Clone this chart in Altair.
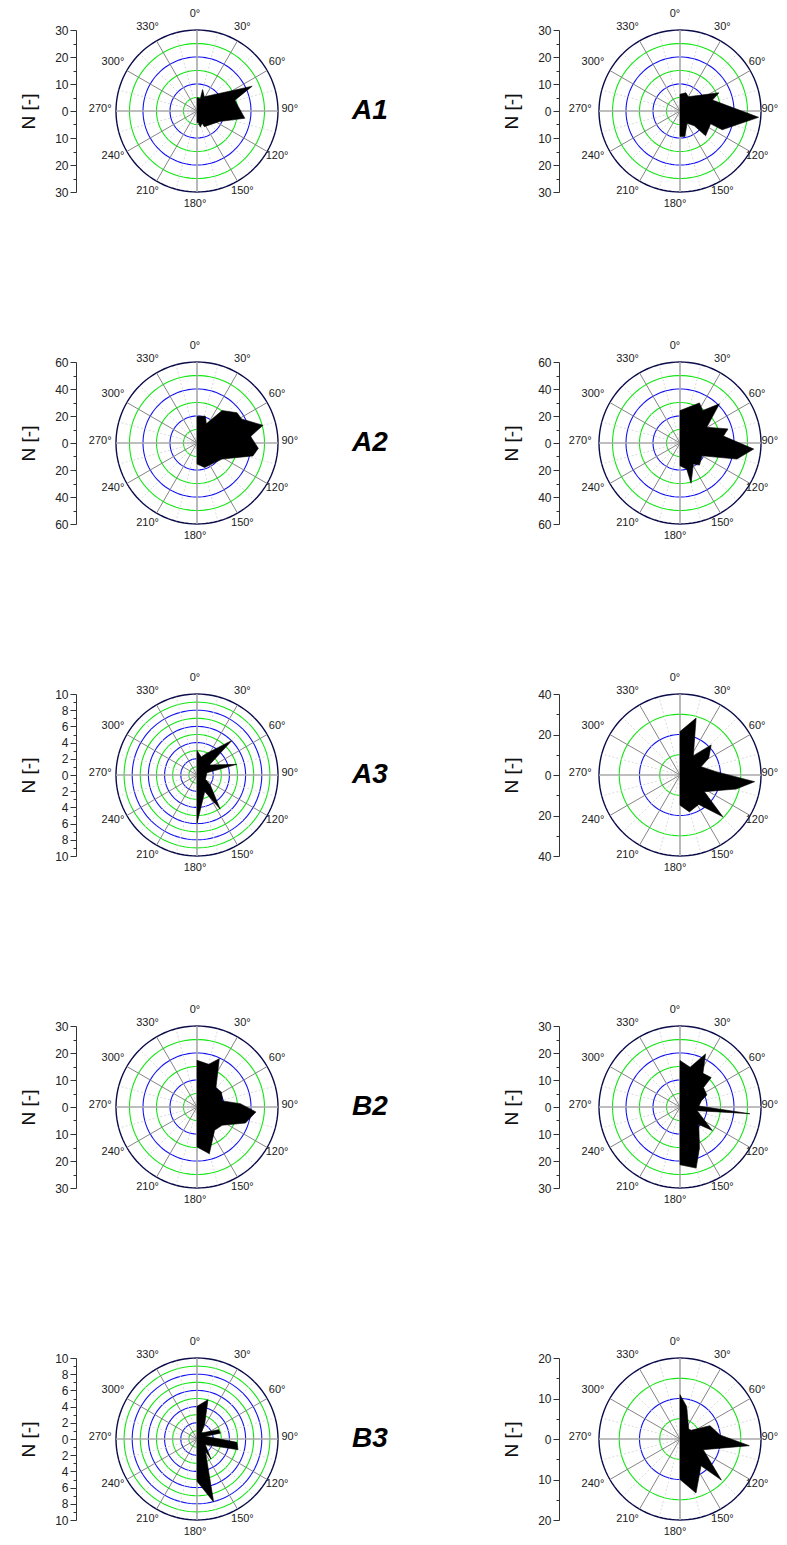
import altair as alt
import pandas as pd

# ---------------- data (angle in degrees clockwise from 0°, N [-]) ----------------
panel_labels = ["A1", "A2", "A3", "B2", "B3"]

a1l_ang = [0, 15, 14.7, 27, 65.8, 74, 84, 98.6, 115, 155, 157, 168.5, 173.5, 180]
a1l_n = [5.0, 4.7, 8.2, 5.9, 22.4, 14.6, 15.4, 17.9, 9.2, 6.4, 4.9, 6.1, 4.3, 4.3]

a1r_ang = [0, 18, 30, 65, 71.4, 94.6, 114, 112.7, 134, 136, 150, 169, 180]
a1r_n = [6.2, 7.1, 6.1, 15.9, 12.7, 29.2, 17.1, 12.3, 13.2, 7.6, 5.2, 9.6, 9.4]

a2l_ang = [0, 17.4, 26, 37.7, 53, 61.6, 75, 83, 95, 103, 122.6, 140, 162.5, 180]
a2l_n = [19.8, 20.8, 15.8, 30.4, 37.2, 37.5, 50.6, 40, 45.6, 42.5, 22.1, 19.4, 19, 15.6]

a2r_ang = [0, 25.8, 35, 45.2, 59.6, 73.6, 81, 94.7, 105.8, 120, 138.7, 147.6, 164.6, 165.6, 180]
a2r_n = [24, 33, 29.4, 41.2, 23, 37, 32.6, 54.8, 43.8, 18.9, 21.8, 18.5, 30.9, 20, 16.9]

a3l_ang = [0, 13.5, 22.9, 45.3, 51, 75, 77, 117, 127, 145.8, 155, 180]
a3l_n = [3.03, 2.28, 2.85, 6.06, 1.95, 5.09, 1.26, 1.16, 2.05, 5.1, 2.26, 5.98]

a3r_ang = [0, 15.8, 34.6, 46, 59.8, 68.4, 84.7, 95.1, 104, 124.4, 134.3, 147.5, 165.7, 180]
a3r_n = [21.5, 29.2, 11.6, 21.4, 16.4, 11.2, 17.9, 37, 28.6, 14.6, 29.6, 17.2, 18.8, 14.9]

b2l_ang = [0, 15.3, 24.8, 44.5, 58.3, 76.8, 85.6, 94.8, 108.3, 126, 142.9, 165.2, 180]
b2l_n = [17.3, 16.4, 19.7, 10, 10.6, 9.8, 16.1, 21.9, 18.9, 11.5, 10.8, 17.9, 14.8]

b2r_ang = [0, 14.3, 25.7, 34.2, 46.6, 50.4, 65.8, 74, 87, 95.5, 102, 126, 133, 154.6, 165.2, 180]
b2r_n = [17.2, 15.2, 21.8, 15.1, 15.9, 11.3, 10.9, 8.2, 7, 26, 6.5, 14.8, 9.5, 16.8, 23.4, 21.4]

b3l_ang = [0, 15.6, 26.6, 35.8, 66.7, 76, 72, 94.8, 104.6, 124, 145, 146, 165.2, 180]
b3l_n = [4.03, 5.04, 2.12, 0.91, 2.91, 2.97, 1.08, 4.95, 5.23, 1.24, 3.01, 1.84, 8.05, 5.23]

b3r_ang = [0, 11.5, 41, 51.8, 66, 84.3, 95.5, 114.6, 134.8, 141.8, 163.5, 180]
b3r_n = [10.95, 8.2, 3.27, 3.5, 8.1, 9.93, 17.2, 6.33, 14.4, 8.4, 13.9, 10]

# (label, angles, values, radial max, major tick step)
panels = [
    (panel_labels[0], a1l_ang, a1l_n, 30, 10), (None, a1r_ang, a1r_n, 30, 10),
    (panel_labels[1], a2l_ang, a2l_n, 60, 20), (None, a2r_ang, a2r_n, 60, 20),
    (panel_labels[2], a3l_ang, a3l_n, 10, 2), (None, a3r_ang, a3r_n, 40, 20),
    (panel_labels[3], b2l_ang, b2l_n, 30, 10), (None, b2r_ang, b2r_n, 30, 10),
    (panel_labels[4], b3l_ang, b3l_n, 10, 2), (None, b3r_ang, b3r_n, 20, 10),
]

SIZE = 162
FONT = "Liberation Sans"
GREEN = "#14e614"
BLUE = "#1414f0"
NAVY = "#0c0c4a"
LABEL_R = 1.17

# angular sampling used to trace the grid circles
circle_steps = list(range(0, 361, 3))


def make_panel(label, ang, vals, rmax, major, label_dx):
    minor = major / 2
    ring_step = major / 2
    xs = alt.Scale(domain=[-rmax, rmax], nice=False, zero=False)
    ys = alt.Scale(domain=[-rmax, rmax], nice=False, zero=False)
    tick_vals = []
    v = -rmax
    while v <= rmax + 1e-9:
        tick_vals.append(round(v, 6))
        v += minor
    yaxis = alt.Axis(
        values=tick_vals,
        labelExpr=f"abs(datum.value) % {major} == 0 ? '' + abs(datum.value) : ''",
        tickSize={"condition": {"test": f"abs(datum.value) % {major} == 0", "value": 6}, "value": 3},
        offset=40,
        title="N [-]",
        titleFont=FONT,
        titleFontSize=19,
        titleFontWeight="normal",
        titleColor="#111",
        titlePadding=16,
        labelFont=FONT,
        labelFontSize=12,
        labelColor="#222",
        labelPadding=2,
        domainColor="#333",
        tickColor="#333",
        grid=False,
    )
    X = alt.X("px:Q", scale=xs, axis=None)
    Y = alt.Y("py:Q", scale=ys, axis=yaxis)

    n_rings = int(round(rmax / ring_step))
    ring_df = pd.DataFrame(
        [{"k": k, "s": s} for k in range(1, n_rings + 1) for s in circle_steps]
    )
    ring_layer = (
        alt.Chart(ring_df)
        .transform_calculate(
            px=f"datum.k * {ring_step} * sin(datum.s * PI / 180)",
            py=f"datum.k * {ring_step} * cos(datum.s * PI / 180)",
            c=f"datum.k == {n_rings} ? '{NAVY}' : (datum.k % 2 == 0 ? '{BLUE}' : '{GREEN}')",
            w=f"datum.k == {n_rings} ? 1.4 : 1.1",
        )
        .mark_line()
        .encode(
            x=X, y=Y,
            detail="k:N",
            order=alt.Order("s:Q"),
            stroke=alt.Stroke("c:N", scale=None),
            strokeWidth=alt.StrokeWidth("w:Q", scale=None),
        )
    )

    minor_spokes = (
        alt.Chart(pd.DataFrame({"a": list(range(15, 360, 30))}))
        .transform_calculate(
            px="0", py="0",
            px2=f"{rmax} * sin(datum.a * PI / 180)",
            py2=f"{rmax} * cos(datum.a * PI / 180)",
        )
        .mark_rule(color="#d0d0d0", strokeWidth=0.8, strokeDash=[2, 2])
        .encode(x=X, y=Y, x2="px2:Q", y2="py2:Q")
    )
    major_spokes = (
        alt.Chart(pd.DataFrame({"a": list(range(0, 360, 30))}))
        .transform_calculate(
            px="0", py="0",
            px2=f"{rmax} * sin(datum.a * PI / 180)",
            py2=f"{rmax} * cos(datum.a * PI / 180)",
            w="datum.a % 90 == 0 ? 1.6 : 1",
            c="datum.a % 90 == 0 ? '#a8a8a8' : '#858585'",
        )
        .mark_rule()
        .encode(x=X, y=Y, x2="px2:Q", y2="py2:Q",
                strokeWidth=alt.StrokeWidth("w:Q", scale=None),
                color=alt.Color("c:N", scale=None))
    )

    poly_df = pd.DataFrame({"i": list(range(len(ang))), "a": ang, "n": vals})
    poly = (
        alt.Chart(poly_df)
        .transform_calculate(
            px="datum.n * sin(datum.a * PI / 180)",
            py="datum.n * cos(datum.a * PI / 180)",
        )
        .mark_line(fill="black", stroke="black", strokeWidth=0.6, interpolate="linear-closed")
        .encode(x=X, y=Y, order=alt.Order("i:Q"))
    )

    ang_labels = (
        alt.Chart(pd.DataFrame({"a": list(range(0, 360, 30))}))
        .transform_calculate(
            px=f"{rmax} * {LABEL_R} * sin(datum.a * PI / 180)",
            py=f"{rmax} * {LABEL_R} * cos(datum.a * PI / 180)",
            t="datum.a + '°'",
        )
        .mark_text(font=FONT, fontSize=11, color="#1a1a1a", align="center", baseline="middle",
                   dx=label_dx, dy=-2)
        .encode(x=X, y=Y, text="t:N")
    )

    layers = [ring_layer, minor_spokes, major_spokes, poly, ang_labels]
    if label:
        lab = (
            alt.Chart(pd.DataFrame({"t": [label]}))
            .mark_text(font=FONT, fontSize=28, fontWeight="bold", fontStyle="italic",
                       color="black", align="center", baseline="middle")
            .encode(x=alt.value(254), y=alt.value(81), text="t:N")
        )
        layers.append(lab)
    return alt.layer(*layers).properties(width=SIZE, height=SIZE)


cells = [make_panel(*p, label_dx=(-2 if k % 2 == 0 else -5)) for k, p in enumerate(panels)]

chart = (
    alt.concat(*cells, columns=2, spacing={"row": 170, "column": 321}, bounds="flush")
    .properties(padding={"left": 11, "top": 0, "right": -1, "bottom": -1})
    .configure_view(stroke=None)
)

chart.save("out.html", embed_options={"renderer": "svg", "actions": False})
